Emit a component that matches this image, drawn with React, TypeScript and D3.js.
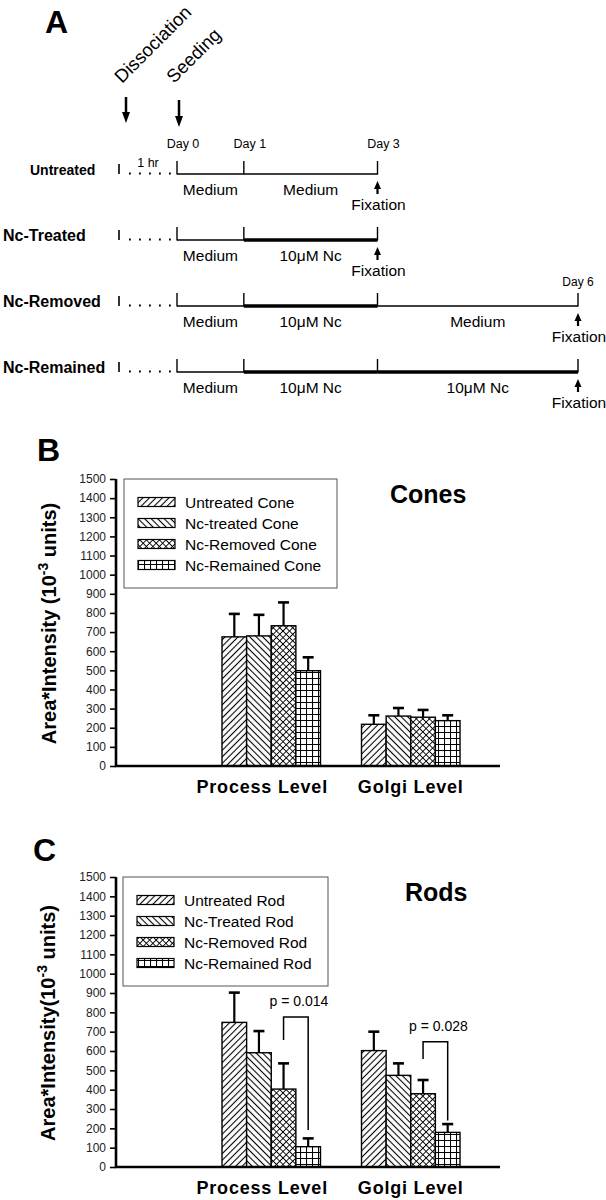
import React, { useEffect, useRef } from 'react'
import * as d3 from 'd3'

// panel A - culture protocol timeline
const rowNames = ['Untreated', 'Nc-Treated', 'Nc-Removed', 'Nc-Remained']
const rowSegments: [number, number, string, boolean][][] = [
  [[0, 1, 'Medium', false], [1, 3, 'Medium', false]],
  [[0, 1, 'Medium', false], [1, 3, '10μM Nc', true]],
  [[0, 1, 'Medium', false], [1, 3, '10μM Nc', true], [3, 6, 'Medium', false]],
  [[0, 1, 'Medium', false], [1, 3, '10μM Nc', true], [3, 6, '10μM Nc', true]],
]
const dayTicks = [0, 1, 3]
const dayLabels = ['Day 0', 'Day 1', 'Day 3']

// panels B and C
const groups = ['Process Level', 'Golgi Level']
const coneNames = ['Untreated Cone', 'Nc-treated Cone', 'Nc-Removed Cone', 'Nc-Remained Cone']
const coneProcess = [675, 680, 733, 498]
const coneProcessErr = [120, 110, 122, 70]
const coneGolgi = [218, 261, 255, 237]
const coneGolgiErr = [47, 42, 38, 28]

const rodNames = ['Untreated Rod', 'Nc-Treated Rod', 'Nc-Removed Rod', 'Nc-Remained Rod']
const rodProcess = [748, 591, 403, 105]
const rodProcessErr = [154, 112, 133, 43]
const rodGolgi = [602, 474, 379, 179]
const rodGolgiErr = [98, 62, 71, 43]
const rodPLabels = ['p = 0.014', 'p = 0.028']
const rodBracketTop = [776, 648]
const rodBracketLeft = [657, 559]
const rodBracketRight = [191, 240]

const yTicks = d3.range(0, 1501, 100)
const patterns = ['pat-up', 'pat-down', 'pat-cross', 'pat-grid']

const FONT = 'Liberation Sans, Arial, Helvetica, sans-serif'

function makePatterns(svg) {
  const defs = svg.append('defs')
  const diag = (id, rot, size, both, sw) => {
    const p = defs.append('pattern').attr('id', id)
      .attr('patternUnits', 'userSpaceOnUse')
      .attr('width', size).attr('height', size)
      .attr('patternTransform', `rotate(${rot})`)
    p.append('rect').attr('width', size).attr('height', size).attr('fill', '#fff')
    p.append('line').attr('x1', size / 2).attr('x2', size / 2).attr('y1', 0).attr('y2', size)
      .attr('stroke', '#000').attr('stroke-width', sw)
    if (both) {
      p.append('line').attr('y1', size / 2).attr('y2', size / 2).attr('x1', 0).attr('x2', size)
        .attr('stroke', '#000').attr('stroke-width', sw)
    }
  }
  diag('pat-up', 45, 4.6, false, 1.1)
  diag('pat-down', -45, 4.6, false, 1.1)
  diag('pat-cross', 45, 4.6, true, 0.9)
  const g = defs.append('pattern').attr('id', 'pat-grid')
    .attr('patternUnits', 'userSpaceOnUse').attr('width', 6).attr('height', 6)
  g.append('rect').attr('width', 6).attr('height', 6).attr('fill', '#fff')
  g.append('path').attr('d', 'M0,0.5H6M0.5,0V6').attr('stroke', '#000').attr('stroke-width', 1.1)
}

function arrow(g, x, yTail, yTip, headLen, headW, width) {
  const dir = yTip > yTail ? 1 : -1
  g.append('line').attr('x1', x).attr('x2', x).attr('y1', yTail).attr('y2', yTip - dir * headLen * 0.6)
    .attr('stroke', '#000').attr('stroke-width', width)
  g.append('path')
    .attr('d', `M${x - headW / 2},${yTip - dir * headLen}L${x + headW / 2},${yTip - dir * headLen}L${x},${yTip}Z`)
    .attr('fill', '#000')
}

function drawTimeline(svg) {
  const g = svg.append('g').attr('font-family', FONT)
  const x = d3.scaleLinear().domain([0, 6]).range([177, 578])
  const rowY = d3.scalePoint().domain(rowNames).range([174, 372])

  g.append('text').attr('x', 45).attr('y', 33).attr('font-size', 32).attr('font-weight', 'bold').text('A')

  g.append('text').attr('transform', 'translate(122,84) rotate(-45)').attr('font-size', 18.5).text('Dissociation')
  g.append('text').attr('transform', 'translate(174,84) rotate(-45)').attr('font-size', 18.5).text('Seeding')
  arrow(g, 126, 97, 123, 11, 8, 2.5)
  arrow(g, x(0) + 2, 100, 127, 11, 8, 2.5)

  const top = rowY('Untreated')
  dayTicks.forEach((d, i) => {
    g.append('text').attr('x', x(d) + 6).attr('y', top - 26).attr('text-anchor', 'middle')
      .attr('font-size', 12.5).text(dayLabels[i])
  })
  g.append('text').attr('x', 148).attr('y', top - 7).attr('text-anchor', 'middle').attr('font-size', 12.5).text('1 hr')

  rowNames.forEach((name, r) => {
    const y = rowY(name)
    const segs = rowSegments[r]
    const last = segs[segs.length - 1][1]
    g.append('text').attr('x', r === 0 ? 30 : 3).attr('y', y + 1)
      .attr('font-size', r === 0 ? 14 : 16).attr('font-weight', 'bold').text(name)

    g.append('line').attr('x1', 119).attr('x2', 119).attr('y1', y - 10).attr('y2', y)
      .attr('stroke', '#000').attr('stroke-width', 1.6)
    g.append('line').attr('x1', 129).attr('x2', 174).attr('y1', y - 0.5).attr('y2', y - 0.5)
      .attr('stroke', '#000').attr('stroke-width', 1.8).attr('stroke-dasharray', '1.8 8.2')

    segs.forEach(([a, b, label, thick]) => {
      g.append('line').attr('x1', x(a)).attr('x2', x(b)).attr('y1', y).attr('y2', y)
        .attr('stroke', '#000').attr('stroke-width', thick ? 3.4 : 1.3)
      g.append('text').attr('x', (x(a) + x(b)) / 2).attr('y', y + 21).attr('text-anchor', 'middle')
        .attr('font-size', 15.5).text(label)
    })
    const ticks = [0, ...segs.map(s => s[1])]
    ticks.forEach(d => {
      g.append('line').attr('x1', x(d)).attr('x2', x(d)).attr('y1', y - 13).attr('y2', y + 0.6)
        .attr('stroke', '#000').attr('stroke-width', 1.4)
    })
    arrow(g, x(last), y + 20, y + 7, 8, 7, 2.2)
    g.append('text').attr('x', x(last) + 1).attr('y', y + 36).attr('text-anchor', 'middle')
      .attr('font-size', 15.5).text('Fixation')
    if (last === 6 && r === 2) {
      g.append('text').attr('x', x(6)).attr('y', y - 20).attr('text-anchor', 'middle')
        .attr('font-size', 12).text('Day 6')
    }
  })
}

function drawBars(svg, cfg) {
  const g = svg.append('g').attr('font-family', FONT)
  const y = d3.scaleLinear().domain([0, 1500]).range([cfg.y0, cfg.y1])
  const x0 = d3.scaleBand().domain(groups).range([222, 460]).paddingInner(0.294)
  const x1 = d3.scaleBand().domain(d3.range(4).map(String)).range([0, x0.bandwidth()])

  g.append('text').attr('x', cfg.letterX).attr('y', cfg.letterY).attr('font-size', 32)
    .attr('font-weight', 'bold').text(cfg.letter)

  // y label
  const yl = g.append('text')
    .attr('transform', `translate(${cfg.labelX},${(cfg.y0 + cfg.y1) / 2 + 1}) rotate(-90)`)
    .attr('text-anchor', 'middle').attr('font-size', 20).attr('font-weight', 'bold')
  yl.append('tspan').text(cfg.labelPre)
  yl.append('tspan').attr('font-size', 14).attr('dy', -8).text('-3')
  yl.append('tspan').attr('dy', 8).text(' units)')

  const axis = g.append('g').attr('transform', 'translate(116,0)')
    .call(d3.axisLeft(y).tickValues(yTicks).tickSize(6).tickPadding(4).tickFormat(d3.format('d')))
  axis.select('.domain').attr('stroke-width', 2.6).attr('d', `M0,${y(1500)}V${y(0)}`)
  axis.selectAll('.tick line').attr('stroke-width', 1.6)
  axis.selectAll('.tick text').attr('font-size', 12).attr('font-family', FONT).attr('fill', '#222')

  // legend
  g.append('rect').attr('x', cfg.legendX).attr('y', y(1500)).attr('width', cfg.legendW).attr('height', 109)
    .attr('fill', '#fff').attr('stroke', '#555').attr('stroke-width', 1)
  cfg.names.forEach((n, i) => {
    const cy = y(1500) + 23 + i * 21
    g.append('rect').attr('x', cfg.legendX + 14).attr('y', cy - 4.5).attr('width', 37).attr('height', 9)
      .attr('fill', `url(#${patterns[i]})`).attr('stroke', '#000').attr('stroke-width', 1.2)
    g.append('text').attr('x', cfg.legendX + 61).attr('y', cy + 5.5).attr('font-size', 15.5).text(n)
  })

  g.append('text').attr('x', cfg.titleX).attr('y', y(1500) + 24).attr('font-size', 25)
    .attr('font-weight', 'bold').text(cfg.title)

  // bars
  groups.forEach((grp, gi) => {
    const vals = cfg.values[gi]
    const errs = cfg.errs[gi]
    vals.forEach((v, i) => {
      const bx = x0(grp) + x1(String(i))
      const cx = bx + x1.bandwidth() / 2
      g.append('rect').attr('x', bx).attr('y', y(v)).attr('width', x1.bandwidth()).attr('height', y(0) - y(v))
        .attr('fill', `url(#${patterns[i]})`).attr('stroke', '#000').attr('stroke-width', 1.4)
      g.append('line').attr('x1', cx).attr('x2', cx).attr('y1', y(v)).attr('y2', y(v + errs[i]))
        .attr('stroke', '#000').attr('stroke-width', 2.2)
      g.append('line').attr('x1', cx - 5.5).attr('x2', cx + 5.5).attr('y1', y(v + errs[i])).attr('y2', y(v + errs[i]))
        .attr('stroke', '#000').attr('stroke-width', 2.6)
    })
    g.append('text').attr('x', x0(grp) + x0.bandwidth() / 2 - (gi === 0 ? 9 : 0)).attr('y', y(0) + 27)
      .attr('text-anchor', 'middle').attr('font-size', 18).attr('font-weight', 'bold')
      .attr('letter-spacing', 0.8).text(grp)
  })

  g.append('line').attr('x1', 115).attr('x2', 500).attr('y1', y(0)).attr('y2', y(0))
    .attr('stroke', '#000').attr('stroke-width', 2.6)

  if (cfg.brackets) {
    groups.forEach((grp, gi) => {
      const xl = x0(grp) + x1('2') + x1.bandwidth() / 2
      const xr = x0(grp) + x1('3') + x1.bandwidth() / 2
      const yt = y(rodBracketTop[gi])
      g.append('path')
        .attr('d', `M${xl},${y(rodBracketLeft[gi])}V${yt}H${xr}V${y(rodBracketRight[gi])}`)
        .attr('fill', 'none').attr('stroke', '#000').attr('stroke-width', 1.5)
      g.append('text').attr('x', (xl + xr) / 2 + 3).attr('y', yt - 11).attr('text-anchor', 'middle')
        .attr('font-size', 14).text(rodPLabels[gi])
    })
  }
}

export default function App() {
  const ref = useRef<SVGSVGElement>(null)

  useEffect(() => {
    const svg = d3.select(ref.current)
    svg.selectAll('*').remove()
    makePatterns(svg)
    drawTimeline(svg)
    drawBars(svg, {
      y0: 766, y1: 479, letter: 'B', letterX: 37, letterY: 461,
      labelX: 56, labelPre: 'Area*Intensity (10',
      legendX: 124, legendW: 213, title: 'Cones', titleX: 390,
      names: coneNames, values: [coneProcess, coneGolgi], errs: [coneProcessErr, coneGolgiErr],
      brackets: false,
    })
    drawBars(svg, {
      y0: 1167, y1: 877, letter: 'C', letterX: 33, letterY: 861,
      labelX: 55, labelPre: 'Area*Intensity(10',
      legendX: 123, legendW: 205, title: 'Rods', titleX: 405,
      names: rodNames, values: [rodProcess, rodGolgi], errs: [rodProcessErr, rodGolgiErr],
      brackets: true,
    })
  }, [])

  return (
    <svg ref={ref} width={606} height={1200}
      style={{ position: 'absolute', left: 0, top: 0, background: '#fff' }} />
  )
}
